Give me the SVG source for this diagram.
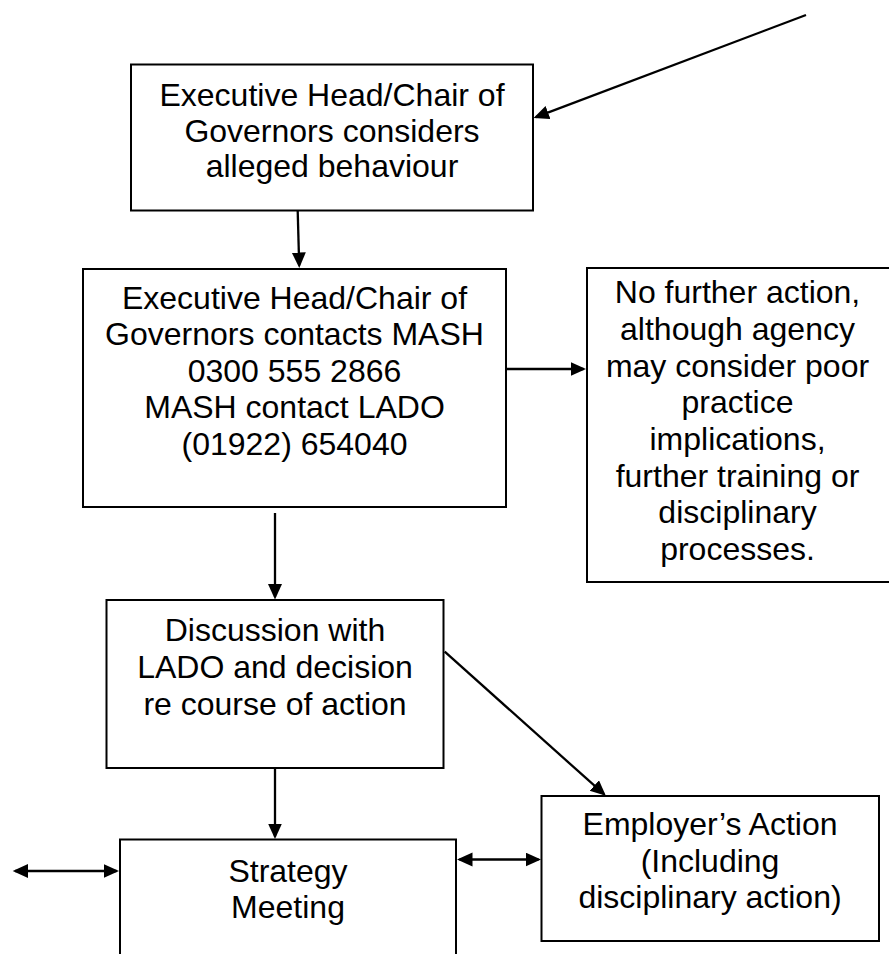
<svg xmlns="http://www.w3.org/2000/svg" width="889" height="954" viewBox="0 0 889 954">
<defs>
<style>
.box{fill:#fff;stroke:#000;stroke-width:2}
.t{font-family:"Liberation Sans",Arial,sans-serif;font-size:32px;fill:#000;text-anchor:middle}
.c{fill:none;stroke:#000;stroke-width:2.3}
</style>
<marker id="ah" markerUnits="userSpaceOnUse" markerWidth="18" markerHeight="16" refX="13" refY="7" orient="auto-start-reverse" viewBox="0 0 18 16">
<path d="M0,0 L15.5,7 L0,14 Z" fill="#000"/>
</marker>
</defs>
<rect width="889" height="954" fill="#fff"/>
<g id="n1">
<rect class="box" x="131" y="64.5" width="402" height="146"/>
<text class="t" x="332" y="106">Executive Head/Chair of</text>
<text class="t" x="332" y="142">Governors considers</text>
<text class="t" x="332" y="177">alleged behaviour</text>
</g>
<g id="n2">
<rect class="box" x="83" y="269" width="423" height="238"/>
<text class="t" x="294.5" y="308.5">Executive Head/Chair of</text>
<text class="t" x="294.5" y="345">Governors contacts MASH</text>
<text class="t" x="294.5" y="381.7">0300 555 2866</text>
<text class="t" x="294.5" y="418.3">MASH contact LADO</text>
<text class="t" x="294.5" y="455">(01922) 654040</text>
</g>
<g id="n3">
<rect class="box" x="587" y="268" width="305" height="314"/>
<text class="t" x="737.5" y="303.3">No further action,</text>
<text class="t" x="737.5" y="340">although agency</text>
<text class="t" x="737.5" y="376.7">may consider poor</text>
<text class="t" x="737.5" y="413.3">practice</text>
<text class="t" x="737.5" y="450">implications,</text>
<text class="t" x="737.5" y="486.7">further training or</text>
<text class="t" x="737.5" y="523.3">disciplinary</text>
<text class="t" x="737.5" y="560">processes.</text>
</g>
<g id="n4">
<rect class="box" x="106.5" y="600" width="337" height="168"/>
<text class="t" x="275" y="640.7">Discussion with</text>
<text class="t" x="275" y="678">LADO and decision</text>
<text class="t" x="275" y="715">re course of action</text>
</g>
<g id="n5">
<rect class="box" x="120" y="839.5" width="336" height="130"/>
<text class="t" x="288" y="881.7">Strategy</text>
<text class="t" x="288" y="918.3">Meeting</text>
</g>
<g id="n6">
<rect class="box" x="541.5" y="796" width="337.5" height="145"/>
<text class="t" x="710" y="835">Employer’s Action</text>
<text class="t" x="710" y="871.7">(Including</text>
<text class="t" x="710" y="908.3">disciplinary action)</text>
</g>
<g id="connectors">
<line class="c" x1="806" y1="15" x2="535.9" y2="117.1" marker-end="url(#ah)"/>
<line class="c" x1="297.7" y1="211" x2="299.2" y2="265.5" marker-end="url(#ah)"/>
<line class="c" x1="507" y1="369" x2="583.5" y2="369" marker-end="url(#ah)"/>
<line class="c" x1="275" y1="513" x2="275" y2="597" marker-end="url(#ah)"/>
<line class="c" x1="444.7" y1="651.7" x2="604" y2="794.2" marker-end="url(#ah)"/>
<line class="c" x1="275" y1="769" x2="275" y2="836.5" marker-end="url(#ah)"/>
<line class="c" x1="15.2" y1="871" x2="116.5" y2="871" marker-start="url(#ah)" marker-end="url(#ah)"/>
<line class="c" x1="459.5" y1="859.5" x2="538.5" y2="859.5" marker-start="url(#ah)" marker-end="url(#ah)"/>
</g>
</svg>
